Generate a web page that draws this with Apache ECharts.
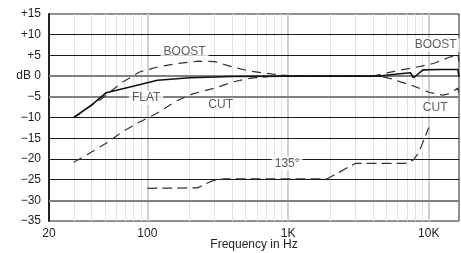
<!DOCTYPE html>
<html><head><meta charset="utf-8">
<script src="https://cdn.jsdelivr.net/npm/echarts@6/dist/echarts.min.js"></script>
<style>html,body{margin:0;padding:0;background:#fff}#c{width:461px;height:253px}</style>
</head><body><div id="c"></div>
<script>
// ---- data ----
const yTickValues = [-35, -30, -25, -20, -15, -10, -5, 0, 5, 10, 15];
const yTickLabels = ['−35', '−30', '−25', '−20', '−15', '−10', '−5', 'dB 0', '+5', '+10', '+15'];
const xTickValues = [20, 100, 1000, 10000];
const xTickLabels = ['20', '100', '1K', '10K'];

const flatFreq = [30, 40, 51, 74, 118, 200, 400, 1000, 4500, 5000, 6000, 7400, 7800, 9100, 12000, 16100, 16400];
const flatDb   = [-10, -7, -4, -2.7, -1.0, -0.4, -0.1, 0, 0, 0.2, 0.5, 0.8, -0.4, 1.5, 1.6, 1.6, -0.2];

const boostFreq = [30, 48, 65, 88, 118, 160, 230, 300, 405, 535, 780, 1000, 2000, 4000, 4700, 6100, 7400, 8900, 10900, 12500, 14100, 16100, 16400];
const boostDb   = [-10, -5.3, -1.7, 1.0, 2.2, 3.0, 3.6, 3.5, 2.2, 1.2, 0.5, 0.1, 0, 0, 0.5, 1.4, 1.9, 2.4, 3.1, 3.9, 4.6, 5.1, 3.5];

const cutFreq = [30, 39, 51, 66, 88, 118, 161, 210, 316, 405, 545, 740, 1000, 4500, 5500, 6300, 7500, 8700, 10000, 12600, 13800, 16100, 16400];
const cutDb   = [-20.8, -18.6, -16.2, -13.5, -11.1, -8.9, -6.0, -4.3, -2.7, -1.4, -0.5, -0.1, 0, 0, -0.7, -1.4, -2.2, -3.0, -3.9, -4.6, -4.3, -2.9, -4.6];

const o135Freq = [100, 228, 260, 291, 350, 1000, 1900, 3000, 6800, 7800, 8500, 9200, 10000];
const o135Db   = [-27.1, -27.0, -26.0, -25.3, -24.8, -24.8, -24.8, -21.1, -21.1, -20.2, -18.4, -15.5, -12.4];

const minorGridFreq = [30, 40, 50, 60, 70, 80, 90, 200, 300, 400, 500, 600, 700, 800, 900, 2000, 3000, 4000, 5000, 6000, 7000, 8000, 9000];
const majorGridFreq = [100, 1000, 10000];
const blackGridDb = [-25, -20, -15, -10, 5, 10];
const grayGridDb = [-30, -5, 0];

const labelTexts = ['BOOST', 'BOOST', 'FLAT', 'CUT', 'CUT', '135°'];
const labelFreq  = [184, 11200, 98, 332, 11100, 985];
const labelDb    = [5.8, 7.5, -5.3, -7.0, -7.7, -21.1];

// ---- build ----
const zip = (a, b) => a.map((v, i) => [v, b[i]]);
const FONT = "'Liberation Sans', Arial, sans-serif";
const chart = echarts.init(document.getElementById('c'), null, { renderer: 'canvas' });

const gridLines = [].concat(
  minorGridFreq.map(f => ({ xAxis: f, lineStyle: { color: '#e2e2e2', width: 1, type: 'solid' } })),
  majorGridFreq.map(f => ({ xAxis: f, lineStyle: { color: '#d0d0d0', width: 2, type: 'solid' } })),
  blackGridDb.map(d => ({ yAxis: d, lineStyle: { color: '#1a1a1a', width: 1, type: 'solid' } })),
  grayGridDb.map(d => ({ yAxis: d, lineStyle: { color: '#808080', width: 2, type: 'solid' } }))
);

function curve(name, f, d, color, width, type) {
  return {
    name, type: 'line', data: zip(f, d), showSymbol: false, symbol: 'none', z: 4,
    lineStyle: { color, width, type }, silent: true
  };
}

chart.setOption({
  animation: false,
  backgroundColor: '#fff',
  textStyle: { fontFamily: FONT },
  grid: {
    left: 49, right: 2, top: 14, bottom: 32, show: true, borderColor: '#222', borderWidth: 1,
    containLabel: false, outerBoundsMode: 'none'
  },
  xAxis: {
    type: 'log', logBase: 10, min: 20, max: 16400,
    axisLine: { show: true, lineStyle: { color: '#222', width: 1.5 } },
    axisTick: { show: false },
    splitLine: { show: false },
    minorSplitLine: { show: false },
    axisLabel: {
      color: '#222', fontSize: 12, fontFamily: FONT, margin: 7,
      showMinLabel: true, showMaxLabel: false,
      formatter: v => {
        for (let i = 0; i < xTickValues.length; i++) {
          if (Math.abs(v - xTickValues[i]) / xTickValues[i] < 0.01) return xTickLabels[i];
        }
        return '';
      }
    },
    name: 'Frequency in Hz', nameLocation: 'middle', nameGap: 18, nameMoveOverlap: false,
    nameTextStyle: { color: '#222', fontSize: 12, fontFamily: FONT }
  },
  yAxis: {
    type: 'value', min: -35, max: 15, interval: 5,
    axisLine: { show: true, lineStyle: { color: '#222', width: 2 } },
    axisTick: { show: false },
    splitLine: { show: false },
    axisLabel: {
      color: '#222', fontSize: 12, fontFamily: FONT, margin: 8,
      formatter: v => {
        const i = yTickValues.indexOf(Math.round(v));
        return i >= 0 ? yTickLabels[i] : '';
      }
    }
  },
  series: [
    {
      type: 'line', data: [[20, -35]], showSymbol: false, symbol: 'none', z: 1,
      lineStyle: { width: 0 }, silent: true,
      markLine: { silent: true, symbol: ['none', 'none'], label: { show: false }, animation: false, data: gridLines, z: 1 }
    },
    curve('BOOST', boostFreq, boostDb, '#333', 1.2, [9, 6]),
    curve('CUT', cutFreq, cutDb, '#333', 1.2, [9, 6]),
    curve('135°', o135Freq, o135Db, '#333', 1.2, [10, 5]),
    curve('FLAT', flatFreq, flatDb, '#111', 1.6, 'solid'),
    {
      type: 'scatter', symbolSize: 0, z: 10, silent: true,
      data: labelTexts.map((t, i) => ({ name: t, value: [labelFreq[i], labelDb[i]] })),
      label: {
        show: true, position: 'inside', formatter: '{b}', color: '#333', fontSize: 12,
        fontFamily: FONT, backgroundColor: '#fff', padding: [1, 3]
      }
    }
  ]
});
</script></body></html>
